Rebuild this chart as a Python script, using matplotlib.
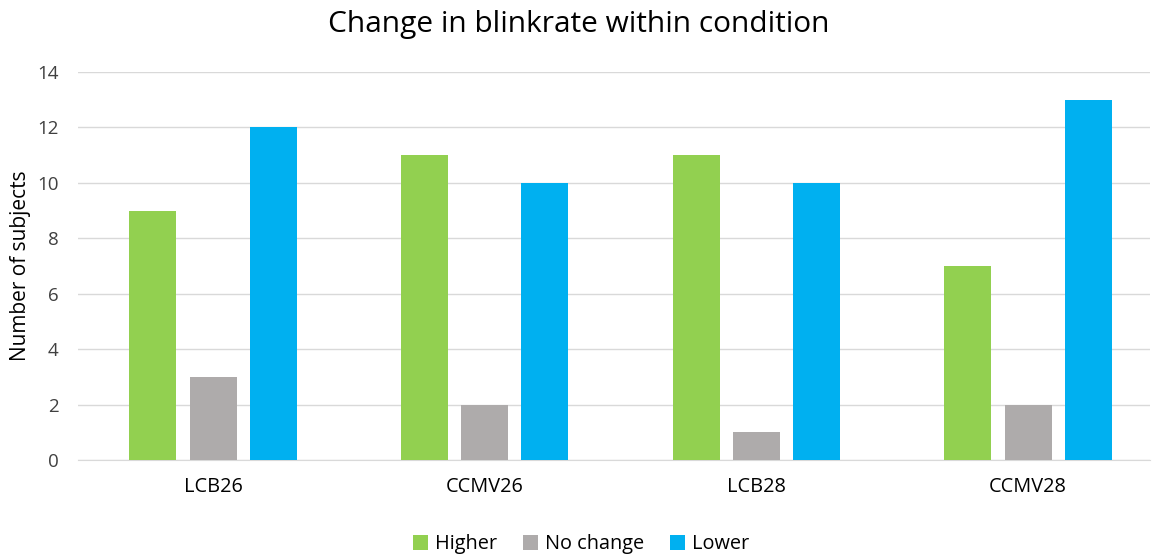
import matplotlib
matplotlib.use("Agg")
import matplotlib.pyplot as plt
import numpy as np

plt.rcParams['font.family'] = ['Open Sans', 'DejaVu Sans']

conditions = ['LCB26', 'CCMV26', 'LCB28', 'CCMV28']
higher = [9, 11, 11, 7]
no_change = [3, 2, 1, 2]
lower = [12, 10, 10, 13]

series = [('Higher', higher, '#92D050'),
          ('No change', no_change, '#AEABAB'),
          ('Lower', lower, '#00B0F0')]

fig = plt.figure(figsize=(11.58, 5.55), dpi=100)
ax = fig.add_axes([78 / 1158, 1 - 460 / 555, 1072 / 1158, 388 / 555])

x = np.arange(len(conditions))
width = 0.173
step = 0.221
for i, (name, vals, color) in enumerate(series):
    ax.bar(x + (i - 1) * step, vals, width, color=color, label=name, zorder=3)

ax.set_xlim(-0.497, 3.449)
ax.set_ylim(0, 14)
ax.set_yticks(range(0, 15, 2))
ax.set_xticks(x)
ax.set_xticklabels(conditions, fontsize=14.3)
ax.tick_params(axis='y', labelsize=13.5, length=0, pad=14, colors='#404040')
ax.tick_params(axis='x', length=0, pad=12, colors='#000000')
ax.grid(axis='y', color='#D9D9D9', linewidth=1, zorder=0)
for s in ['top', 'right', 'left']:
    ax.spines[s].set_visible(False)
ax.spines['bottom'].set_color('#D9D9D9')

ax.set_ylabel('Number of subjects', fontsize=15, labelpad=4)
fig.suptitle('Change in blinkrate within condition', fontsize=21.5, y=0.982)

fig.legend(loc='lower center', bbox_to_anchor=(0.502, -0.031), ncol=3,
           frameon=False, fontsize=14.3, handlelength=0.75, handleheight=0.75,
           handletextpad=0.35, columnspacing=1.3)

fig.savefig('out.png', dpi=100)
